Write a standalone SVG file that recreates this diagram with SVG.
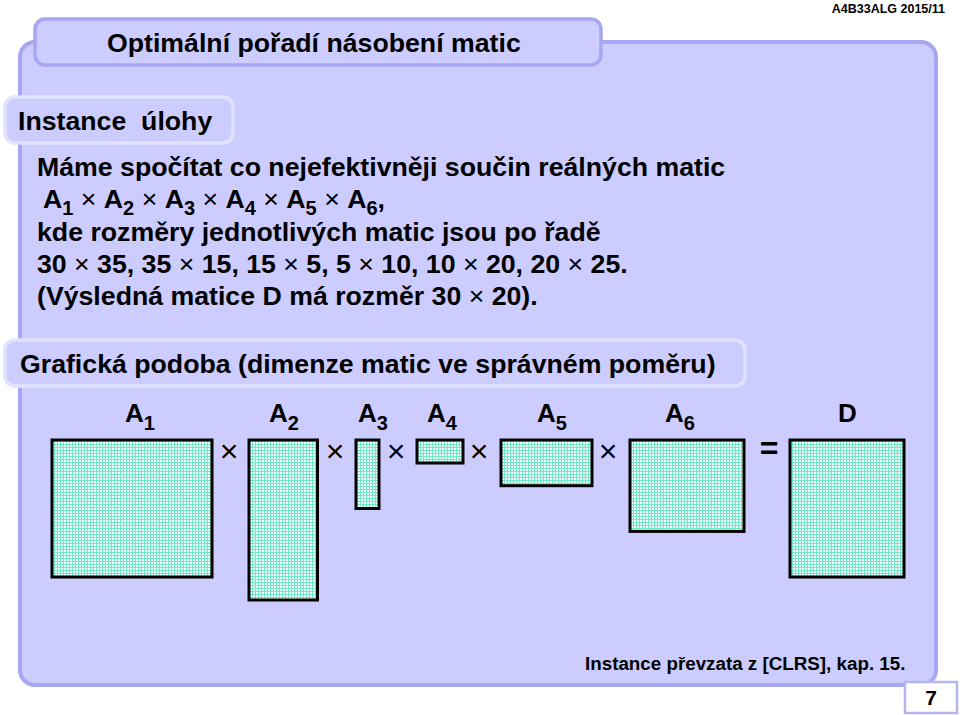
<svg xmlns="http://www.w3.org/2000/svg" width="960" height="715" viewBox="0 0 960 715">
<style>
text{font-family:"Liberation Sans",Arial,sans-serif;fill:#000}
.b{font-weight:bold;font-size:26.7px}
.sub{font-size:20px}
.x{font-weight:normal}
.mat{fill:url(#grid);stroke:#000;stroke-width:3}
.op{font-size:32px;font-weight:normal;text-anchor:middle}
.lbl{font-weight:bold;font-size:26px}
</style>
<defs>
<pattern id="grid" width="3" height="3" patternUnits="userSpaceOnUse">
<rect width="3" height="3" fill="#f6fffc"/>
<path d="M0 0.5H3M0.5 0V3" stroke="#6eeac8" stroke-width="1"/>
</pattern>
</defs>
<rect width="960" height="715" fill="#fff"/>
<text x="945" y="13" text-anchor="end" style="font-weight:bold;font-size:12.5px">A4B33ALG  2015/11</text>

<g id="panel">
<rect x="20" y="42" width="916" height="643" rx="15" fill="#ccccff" stroke="#a6a6f2" stroke-width="4"/>
</g>
<g id="title">
<rect x="35" y="19" width="566" height="46" rx="10" fill="#ccccff" stroke="#a6a6f2" stroke-width="3.5"/>
<text x="107" y="52" class="b">Optimální pořadí násobení matic</text>
</g>
<g id="instance-tab">
<rect x="5" y="97" width="228" height="46" rx="10" fill="#ccccff" stroke="#e2e2ff" stroke-width="3.5"/>
<text x="18" y="130" class="b" xml:space="preserve">Instance  úlohy</text>
</g>
<g id="body">
<text x="37" y="176" class="b">Máme spočítat co nejefektivněji součin reálných matic</text>
<text x="43" y="208" class="b">A<tspan class="sub" dy="7">1</tspan><tspan class="x" dy="-7"> × </tspan>A<tspan class="sub" dy="7">2</tspan><tspan class="x" dy="-7"> × </tspan>A<tspan class="sub" dy="7">3</tspan><tspan class="x" dy="-7"> × </tspan>A<tspan class="sub" dy="7">4</tspan><tspan class="x" dy="-7"> × </tspan>A<tspan class="sub" dy="7">5</tspan><tspan class="x" dy="-7"> × </tspan>A<tspan class="sub" dy="7">6</tspan><tspan dy="-7">,</tspan></text>
<text x="37" y="241" class="b">kde rozměry jednotlivých matic jsou po řadě</text>
<text x="37" y="273" class="b">30<tspan class="x"> × </tspan>35, 35<tspan class="x"> × </tspan>15, 15<tspan class="x"> × </tspan>5, 5<tspan class="x"> × </tspan>10, 10<tspan class="x"> × </tspan>20, 20<tspan class="x"> × </tspan>25.</text>
<text x="37" y="305" class="b">(Výsledná matice D má rozměr 30<tspan class="x"> × </tspan>20).</text>
</g>
<g id="graphic-tab">
<rect x="5" y="340" width="740" height="46" rx="10" fill="#ccccff" stroke="#e2e2ff" stroke-width="3.5"/>
<text x="20" y="373" class="b">Grafická podoba (dimenze matic ve správném poměru)</text>
</g>

<g id="labels">
<text x="125" y="422" class="lbl">A<tspan class="sub" dy="8">1</tspan></text>
<text x="269" y="422" class="lbl">A<tspan class="sub" dy="8">2</tspan></text>
<text x="358" y="422" class="lbl">A<tspan class="sub" dy="8">3</tspan></text>
<text x="427" y="422" class="lbl">A<tspan class="sub" dy="8">4</tspan></text>
<text x="537" y="422" class="lbl">A<tspan class="sub" dy="8">5</tspan></text>
<text x="665" y="422" class="lbl">A<tspan class="sub" dy="8">6</tspan></text>
<text x="838" y="422" class="lbl">D</text>
</g>

<g id="A1"><rect class="mat" x="52" y="440" width="160" height="137"/></g>
<g id="A2"><rect class="mat" x="249" y="440" width="68.5" height="160"/></g>
<g id="A3"><rect class="mat" x="356" y="440" width="23" height="68.5"/></g>
<g id="A4"><rect class="mat" x="417" y="440" width="46" height="23"/></g>
<g id="A5"><rect class="mat" x="501" y="440" width="91" height="45.7"/></g>
<g id="A6"><rect class="mat" x="630" y="440" width="114" height="91.4"/></g>
<g id="D"><rect class="mat" x="790" y="440" width="114" height="137"/></g>

<g id="operators">
<text class="op" x="229" y="462">×</text>
<text class="op" x="335" y="462">×</text>
<text class="op" x="396" y="462">×</text>
<text class="op" x="479" y="462">×</text>
<text class="op" x="608" y="462">×</text>
<text class="op" x="769" y="459" style="font-weight:bold">=</text>
</g>

<text x="585" y="670" style="font-weight:bold;font-size:18.8px">Instance převzata z [CLRS], kap. 15.</text>
<g id="page">
<rect x="905" y="682" width="52" height="31" fill="#fff" stroke="#b4b4f0" stroke-width="2.5"/>
<text x="931" y="705" text-anchor="middle" style="font-weight:bold;font-size:21px">7</text>
</g>
</svg>
